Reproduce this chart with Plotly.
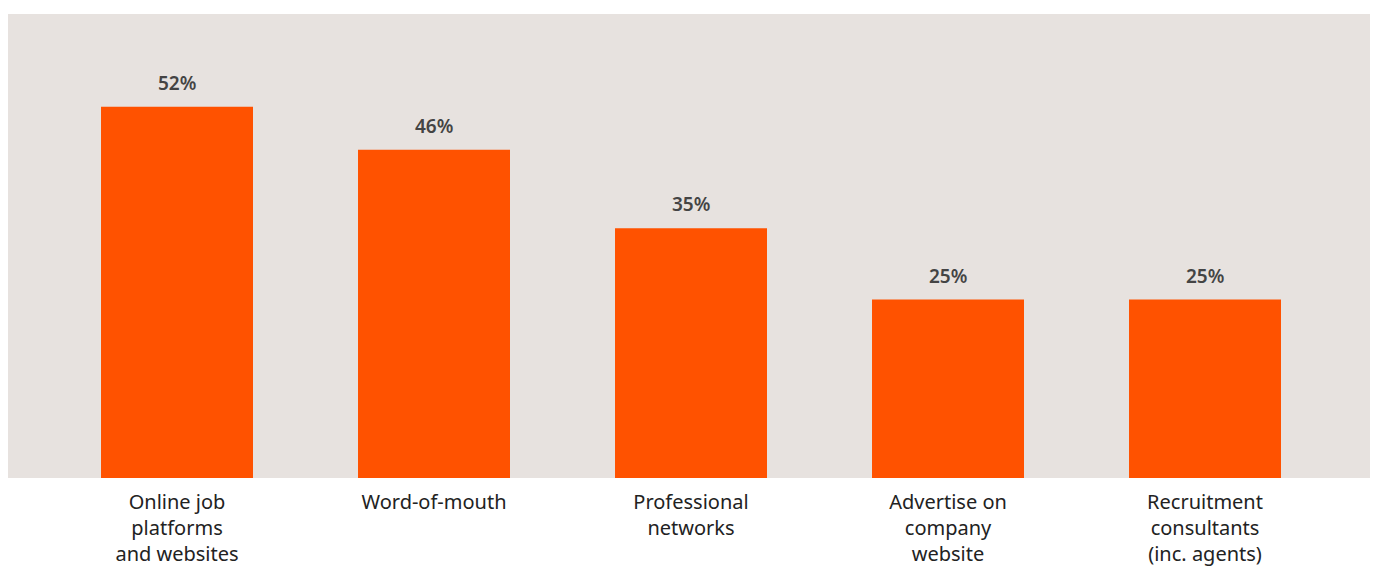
import plotly.graph_objects as go

# Recruitment channels used and share of respondents (%)
categories = [
    "Online job<br>platforms<br>and websites",
    "Word-of-mouth",
    "Professional<br>networks",
    "Advertise on<br>company<br>website",
    "Recruitment<br>consultants<br>(inc. agents)",
]
values = [52, 46, 35, 25, 25]
value_labels = ["52%", "46%", "35%", "25%", "25%"]

BAR_COLOR = "#FF5200"
PLOT_BG = "#E7E2DF"
FONT = "Noto Sans"

fig = go.Figure(
    go.Bar(
        x=list(range(len(categories))),
        y=values,
        marker=dict(color=BAR_COLOR, line=dict(width=0)),
        width=0.5914,
        hoverinfo="skip",
    )
)

# value labels above each bar
for i, (v, lab) in enumerate(zip(values, value_labels)):
    fig.add_annotation(
        x=i, y=v, text=lab, showarrow=False,
        yanchor="bottom", yshift=9,
        font=dict(family=FONT, size=19, color="#444444", weight=600),
    )

fig.update_layout(
    width=1375, height=568,
    margin=dict(l=8, r=5, t=14, b=90),
    paper_bgcolor="white",
    plot_bgcolor=PLOT_BG,
    showlegend=False,
    xaxis=dict(
        range=[-0.6576, 4.642],
        tickmode="array",
        tickvals=list(range(len(categories))),
        ticktext=categories,
        showgrid=False, zeroline=False, showline=False,
        ticks="", ticklen=0,
        ticklabelstandoff=10,
        automargin=False,
        tickfont=dict(family=FONT, size=20, color="#222222"),
    ),
    yaxis=dict(
        range=[0, 65],
        showgrid=False, zeroline=False, showline=False,
        showticklabels=False, ticks="",
    ),
)

fig.write_html("out.html")
